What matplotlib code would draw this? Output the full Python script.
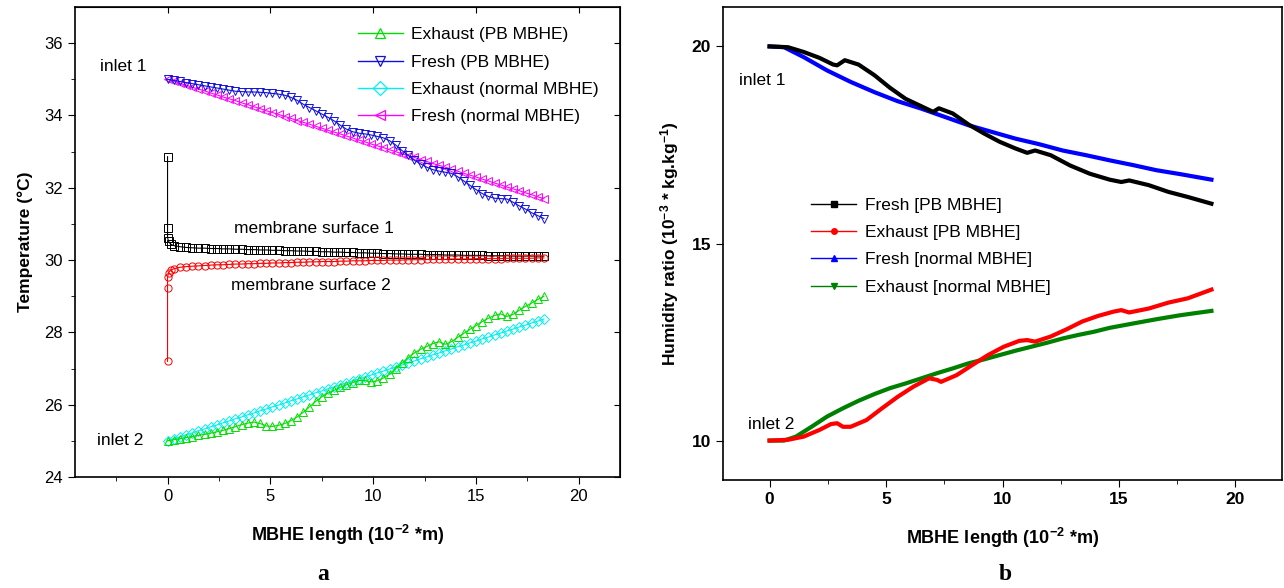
import matplotlib
matplotlib.use("Agg")
import matplotlib.pyplot as plt
from matplotlib.lines import Line2D

plt.rcParams["font.family"] = ["Liberation Sans", "DejaVu Sans"]
plt.rcParams["mathtext.fontset"] = "custom"
plt.rcParams["mathtext.rm"] = "Liberation Sans:bold"
plt.rcParams["mathtext.bf"] = "Liberation Sans:bold"
plt.rcParams["mathtext.default"] = "bf"

# ---- panel a: temperature along the MBHE (10^-2 m) ----
X_A = [0.0, 0.3, 0.6, 0.9, 1.2, 1.5, 1.8, 2.1, 2.4, 2.7, 3.0, 3.3, 3.6, 3.9,
       4.2, 4.5, 4.8, 5.1, 5.4, 5.7, 6.0, 6.3, 6.6, 6.9, 7.2, 7.5, 7.8, 8.1,
       8.4, 8.7, 9.0, 9.3, 9.6, 9.9, 10.2, 10.5, 10.8, 11.1, 11.4, 11.7, 12.0,
       12.3, 12.6, 12.9, 13.2, 13.5, 13.8, 14.1, 14.4, 14.7, 15.0, 15.3, 15.6,
       15.9, 16.2, 16.5, 16.8, 17.1, 17.4, 17.7, 18.0, 18.3]

fresh_pb = [35.00, 34.97, 34.94, 34.91, 34.88, 34.85, 34.82, 34.79, 34.76,
            34.73, 34.70, 34.67, 34.66, 34.65, 34.65, 34.64, 34.63, 34.61,
            34.59, 34.56, 34.50, 34.42, 34.31, 34.22, 34.13, 34.04, 33.95,
            33.85, 33.73, 33.62, 33.55, 33.51, 33.49, 33.46, 33.42, 33.38,
            33.30, 33.18, 33.03, 32.90, 32.76, 32.66, 32.57, 32.50, 32.46,
            32.43, 32.40, 32.31, 32.19, 32.07, 31.95, 31.84, 31.76, 31.71,
            31.70, 31.69, 31.60, 31.50, 31.41, 31.31, 31.23, 31.15]
fresh_normal = [35.00, 34.95, 34.89, 34.84, 34.78, 34.73, 34.68, 34.62,
                34.57, 34.51, 34.46, 34.41, 34.35, 34.30, 34.24, 34.19,
                34.13, 34.08, 34.03, 33.97, 33.92, 33.86, 33.81, 33.76,
                33.70, 33.65, 33.59, 33.54, 33.49, 33.43, 33.38, 33.32,
                33.27, 33.21, 33.16, 33.11, 33.05, 33.00, 32.94, 32.89,
                32.84, 32.78, 32.73, 32.67, 32.62, 32.57, 32.51, 32.46,
                32.40, 32.35, 32.30, 32.24, 32.19, 32.13, 32.08, 32.02,
                31.97, 31.92, 31.86, 31.81, 31.75, 31.70]
exhaust_pb = [25.00, 25.03, 25.06, 25.09, 25.12, 25.15, 25.18, 25.21, 25.25,
              25.29, 25.34, 25.39, 25.45, 25.49, 25.52, 25.48, 25.41, 25.40,
              25.43, 25.48, 25.56, 25.66, 25.79, 25.94, 26.09, 26.22, 26.32,
              26.40, 26.48, 26.55, 26.61, 26.67, 26.67, 26.63, 26.66, 26.74,
              26.85, 27.00, 27.15, 27.30, 27.43, 27.53, 27.61, 27.69, 27.74,
              27.67, 27.74, 27.86, 27.97, 28.08, 28.19, 28.30, 28.39, 28.47,
              28.51, 28.44, 28.50, 28.61, 28.72, 28.81, 28.91, 29.00]
exhaust_normal = [25.00, 25.06, 25.11, 25.17, 25.22, 25.28, 25.33, 25.39,
                  25.44, 25.50, 25.55, 25.61, 25.66, 25.72, 25.77, 25.83,
                  25.88, 25.94, 25.99, 26.05, 26.11, 26.16, 26.22, 26.27,
                  26.33, 26.38, 26.44, 26.49, 26.55, 26.60, 26.66, 26.71,
                  26.77, 26.82, 26.88, 26.93, 26.99, 27.04, 27.10, 27.15,
                  27.21, 27.27, 27.32, 27.38, 27.43, 27.49, 27.54, 27.60,
                  27.65, 27.71, 27.76, 27.82, 27.87, 27.93, 27.98, 28.04,
                  28.09, 28.15, 28.20, 28.26, 28.31, 28.37]

X_MEM = [0.0, 0.0, 0.0, 0.05, 0.15, 0.3] + X_A[2:]
surface1 = [32.86, 30.88, 30.62, 30.52, 30.44, 30.40,
            30.37, 30.35, 30.34, 30.33, 30.33, 30.32, 30.32, 30.31, 30.31,
            30.30, 30.30, 30.29, 30.29, 30.28, 30.28, 30.27, 30.27, 30.26,
            30.26, 30.25, 30.25, 30.24, 30.24, 30.23, 30.23, 30.22, 30.22,
            30.21, 30.21, 30.20, 30.20, 30.19, 30.19, 30.18, 30.18, 30.17,
            30.17, 30.16, 30.16, 30.16, 30.15, 30.15, 30.15, 30.14, 30.14,
            30.14, 30.13, 30.13, 30.13, 30.13, 30.12, 30.12, 30.12, 30.12,
            30.11, 30.11, 30.11, 30.11, 30.11, 30.11]
surface2 = [27.20, 29.22, 29.54, 29.65, 29.72, 29.76,
            29.80, 29.82, 29.83, 29.84, 29.85, 29.86, 29.87, 29.87, 29.88,
            29.89, 29.89, 29.90, 29.90, 29.91, 29.91, 29.92, 29.92, 29.93,
            29.93, 29.94, 29.94, 29.95, 29.95, 29.96, 29.96, 29.96, 29.97,
            29.97, 29.98, 29.98, 29.98, 29.99, 29.99, 29.99, 30.00, 30.00,
            30.00, 30.01, 30.01, 30.01, 30.02, 30.02, 30.02, 30.02, 30.03,
            30.03, 30.03, 30.03, 30.04, 30.04, 30.04, 30.04, 30.04, 30.05,
            30.05, 30.05, 30.05, 30.05, 30.06, 30.06]

# ---- panel b: humidity ratio (10^-3 kg/kg) ----
xb_fresh_pb = [0, 0.79, 1.46, 2.14, 2.73, 2.9, 3.23, 3.82, 4.5, 5.17, 5.84,
               6.52, 7.02, 7.27, 7.86, 8.54, 9.21, 9.88, 10.56, 11.06, 11.4,
               12.07, 12.9, 13.75, 14.6, 15.1, 15.44, 16.28, 17.12, 17.96,
               18.97]
hb_fresh_pb = [20.0, 19.98, 19.86, 19.71, 19.54, 19.52, 19.65, 19.54, 19.27,
               18.95, 18.67, 18.48, 18.34, 18.43, 18.30, 18.02, 17.79, 17.58,
               17.41, 17.30, 17.36, 17.24, 16.98, 16.77, 16.62, 16.56, 16.60,
               16.48, 16.31, 16.18, 16.01]
xb_exh_pb = [0, 0.79, 1.46, 2.14, 2.64, 2.9, 3.15, 3.48, 4.16, 4.83, 5.5,
             6.18, 6.85, 7.19, 7.36, 8.03, 8.71, 9.38, 10.05, 10.72, 11.06,
             11.4, 12.07, 12.74, 13.42, 14.09, 14.76, 15.1, 15.44, 16.28,
             17.12, 17.96, 18.97]
hb_exh_pb = [10.0, 10.02, 10.10, 10.27, 10.42, 10.44, 10.35, 10.35, 10.52,
             10.82, 11.11, 11.37, 11.58, 11.54, 11.49, 11.66, 11.92, 12.17,
             12.38, 12.53, 12.55, 12.51, 12.64, 12.82, 13.02, 13.16, 13.27,
             13.31, 13.25, 13.35, 13.50, 13.61, 13.83]
xb_fresh_n = [0, 0.62, 1.46, 2.47, 3.48, 4.5, 5.5, 6.52, 7.53, 8.54, 9.55,
              10.56, 11.57, 12.58, 13.59, 14.6, 15.6, 16.6, 17.63, 18.97]
hb_fresh_n = [20.0, 19.98, 19.73, 19.39, 19.10, 18.84, 18.61, 18.42, 18.21,
              18.00, 17.83, 17.66, 17.52, 17.36, 17.24, 17.11, 16.99, 16.86,
              16.76, 16.62]
xb_exh_n = [0, 0.62, 1.13, 1.8, 2.47, 3.15, 3.82, 4.5, 5.17, 5.84, 6.52,
            7.19, 7.86, 8.54, 9.21, 9.88, 10.56, 11.23, 11.9, 12.58, 13.25,
            13.92, 14.6, 15.6, 16.62, 17.63, 18.97]
hb_exh_n = [10.0, 10.0, 10.10, 10.35, 10.61, 10.82, 11.01, 11.18, 11.33,
            11.45, 11.58, 11.71, 11.83, 11.96, 12.06, 12.17, 12.28, 12.38,
            12.48, 12.59, 12.68, 12.76, 12.86, 12.97, 13.08, 13.18, 13.29]

fig = plt.figure(figsize=(12.84, 5.88), dpi=100)
ax1 = fig.add_axes([75 / 1284, 1 - 477 / 588, 545 / 1284, 470 / 588])
ax2 = fig.add_axes([723 / 1284, 1 - 480 / 588, 559 / 1284, 473 / 588])

mk = dict(ms=5.2, mfc="none", mew=0.7, lw=0.8)
ax1.plot(X_MEM, surface1, "s-", color="black", **mk)
ax1.plot(X_MEM, surface2, "o-", color="red", **mk)
ax1.plot(X_A, exhaust_normal, "D-", color="#00f0f0", **mk)
ax1.plot(X_A, exhaust_pb, "^-", color="#00e000", **mk)
ax1.plot(X_A, fresh_normal, "<-", color="#ff00ff", **mk)
ax1.plot(X_A, fresh_pb, "v-", color="#1010e0", **mk)

h1 = [Line2D([], [], color=c, marker=m, mfc="none", ms=7.5, mew=0.9, lw=1)
      for c, m in [("#00e000", "^"), ("#1010e0", "v"),
                   ("#00f0f0", "D"), ("#ff00ff", "<")]]
ax1.legend(h1, ["Exhaust (PB MBHE)", "Fresh (PB MBHE)",
                "Exhaust (normal MBHE)", "Fresh (normal MBHE)"],
           loc="upper left", bbox_to_anchor=(0.49, 0.99), frameon=False,
           fontsize=12.5, handlelength=2.6, labelspacing=0.7,
           handletextpad=0.5)

ax1.set_xlim(-4.5, 22)
ax1.set_ylim(24, 37)
ax1.set_xticks([0, 5, 10, 15, 20])
ax1.set_xticks([-2.5, 2.5, 7.5, 12.5, 17.5], minor=True)
ax1.set_yticks([24, 26, 28, 30, 32, 34, 36])
ax1.set_yticks([25, 27, 29, 31, 33, 35], minor=True)
ax1.tick_params(which="both", direction="out", labelsize=12)
ax1.tick_params(which="major", length=5)
ax1.tick_params(which="minor", length=3)
# inward mirror ticks on top and right, as in the original
top = ax1.secondary_xaxis("top")
top.set_xticks([0, 5, 10, 15, 20])
top.tick_params(direction="in", length=4, labeltop=False)
right = ax1.secondary_yaxis("right")
right.set_yticks([24, 26, 28, 30, 32, 34, 36])
right.tick_params(direction="in", length=4, labelright=False)
ax1.set_xlabel("MBHE length (10$^{-2}$ *m)", fontsize=13, fontweight="bold",
               labelpad=14)
ax1.set_ylabel("Temperature (\u00b0C)", fontsize=12.5, fontweight="bold",
               labelpad=8)
ax1.text(-3.3, 35.35, "inlet 1", fontsize=12.5, va="center")
ax1.text(3.25, 30.86, "membrane surface 1", fontsize=12.5, va="center")
ax1.text(3.1, 29.3, "membrane surface 2", fontsize=12.5, va="center")
ax1.text(-3.45, 25.0, "inlet 2", fontsize=12.5, va="center")

lw_b = 3.0
ax2.plot(xb_exh_n, hb_exh_n, color="#008000", lw=lw_b)
ax2.plot(xb_fresh_n, hb_fresh_n, color="#0000ff", lw=lw_b)
ax2.plot(xb_exh_pb, hb_exh_pb, color="#ff0000", lw=lw_b)
ax2.plot(xb_fresh_pb, hb_fresh_pb, color="black", lw=lw_b)

h2 = [Line2D([], [], color=c, marker=m, ms=4, lw=1)
      for c, m in [("black", "s"), ("#ff0000", "o"),
                   ("#0000ff", "^"), ("#008000", "v")]]
ax2.legend(h2, ["Fresh [PB MBHE]", "Exhaust [PB MBHE]",
                "Fresh [normal MBHE]", "Exhaust [normal MBHE]"],
           loc="upper left", bbox_to_anchor=(0.13, 0.63), frameon=False,
           fontsize=12.5, handlelength=2.6, labelspacing=0.7,
           handletextpad=0.5)

ax2.set_xlim(-2, 22)
ax2.set_ylim(9, 21)
ax2.set_xticks([0, 5, 10, 15, 20])
ax2.set_xticks([2.5, 7.5, 12.5, 17.5], minor=True)
ax2.set_yticks([10, 15, 20])
ax2.tick_params(which="both", direction="out", labelsize=12.5)
ax2.tick_params(which="major", length=5)
ax2.tick_params(which="minor", length=3)
for lab in ax2.get_xticklabels() + ax2.get_yticklabels():
    lab.set_fontweight("bold")
ax2.set_xlabel("MBHE length (10$^{-2}$ *m)", fontsize=13, fontweight="bold",
               labelpad=14)
ax2.set_ylabel("Humidity ratio (10$^{-3}$ * kg.kg$^{-1}$)", fontsize=12.5,
               fontweight="bold", labelpad=8)
ax2.text(-1.32, 19.14, "inlet 1", fontsize=12.5, va="center")
ax2.text(-0.94, 10.4, "inlet 2", fontsize=12.5, va="center")

for ax in (ax1, ax2):
    for sp in ax.spines.values():
        sp.set_linewidth(1.2)

fig.text(323 / 1284, 1 - 575 / 588, "a", fontsize=17, fontweight="bold",
         family="Liberation Serif", ha="center", va="center")
fig.text(1005 / 1284, 1 - 575 / 588, "b", fontsize=17, fontweight="bold",
         family="Liberation Serif", ha="center", va="center")

fig.savefig("out.png", dpi=100)
